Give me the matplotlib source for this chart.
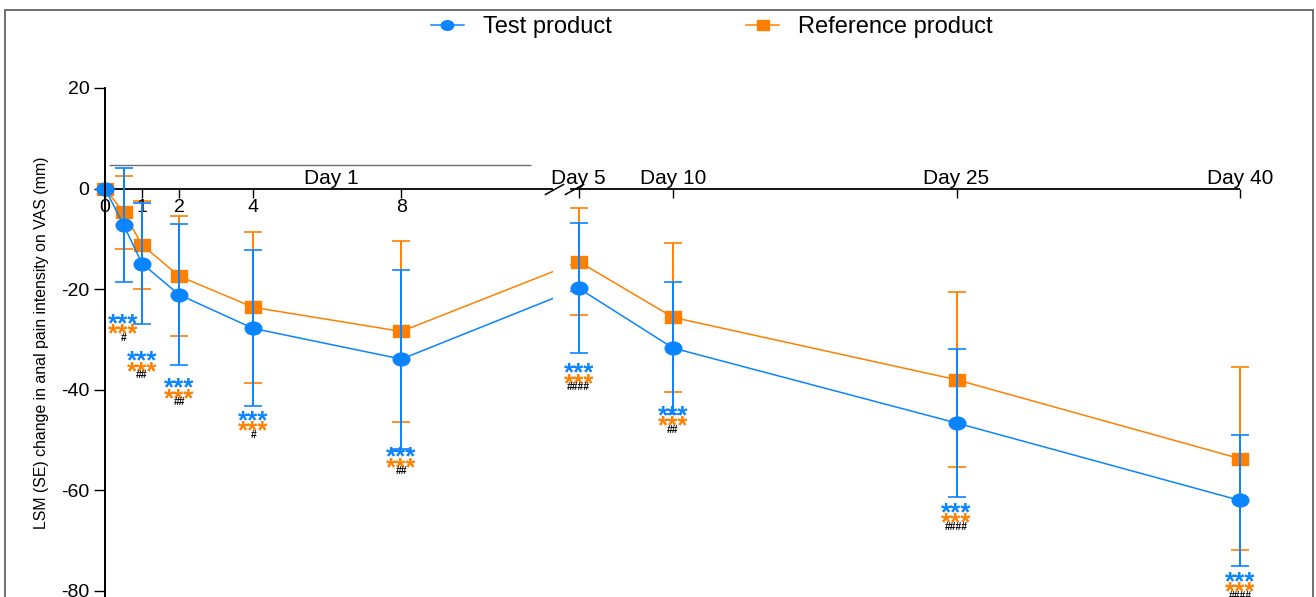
"""LSM change in anal pain intensity (VAS) over time, test vs reference product."""
import numpy as np
import matplotlib
matplotlib.use("Agg")
import matplotlib.pyplot as plt
from matplotlib.path import Path
from matplotlib.patches import Rectangle
from matplotlib.transforms import Affine2D

plt.rcParams["font.family"] = ["Liberation Sans", "DejaVu Sans"]
plt.rcParams["axes.unicode_minus"] = False

# visits: hours after first dose on day 1, then study days
hours = [0, 0.5, 1, 2, 4, 8]
days = [5, 10, 25, 40]
hour_ticks = [0, 1, 2, 4, 8]
hour_labels = ["0", "1", "2", "4", "8"]

test_mean = [0, -7.2, -14.9, -21.1, -27.8, -33.9, -19.8, -31.7, -46.6, -62.0]
test_se = [0, 11.3, 12.1, 14.0, 15.5, 17.8, 12.9, 13.1, 14.7, 13.0]
ref_mean = [0, -4.7, -11.2, -17.4, -23.6, -28.4, -14.5, -25.6, -38.0, -53.7]
ref_se = [0, 7.3, 8.7, 12.0, 15.0, 18.0, 10.6, 14.8, 17.4, 18.2]

# significance marks under each visit (except baseline)
star_y = [-25.4, -32.8, -38.2, -44.7, -51.9, -35.2, -43.7, -63.0, -76.7]
hash_labels = ["#", "##", "##", "#", "##", "####", "##", "####", "####"]

BLUE = "#0a84ff"
ORANGE = "#ff8000"

# time axis in hours, day d sits at (d - 1) * 24 h
day_t = [(d - 1) * 24 for d in days]
t = np.array(hours + day_t, dtype=float)

# piecewise linear axis: hour scale for day 1, compressed day scale after the break
T_KNOTS = [0, 8, 96, 936]
P_KNOTS = [0, 8, 12.78, 30.63]


def fwd(x):
    return np.interp(x, T_KNOTS, P_KNOTS)


def inv(p):
    return np.interp(p, P_KNOTS, T_KNOTS)


# markers are a bit wider than tall in the source picture
ellipse = Path.unit_circle().transformed(Affine2D().scale(1.3, 1.0))
wide_square = Path.unit_rectangle().transformed(Affine2D().translate(-0.5, -0.5).scale(1.3, 1.0))

fig = plt.figure(figsize=(13.16, 5.97), dpi=100)
ax = fig.add_axes([105 / 1316, 0, (1240 - 105) / 1316, 1 - 88 / 597])
ax.set_xscale("function", functions=(fwd, inv))
ax.set_xlim(0, 936)
ax.set_ylim(-81.2, 20)

eb_ref = ax.errorbar(t, ref_mean, yerr=ref_se, color=ORANGE, marker=wide_square, ms=12,
                     lw=1.1, elinewidth=1.4, capsize=6.5, capthick=1.2, zorder=1.5, clip_on=False)
eb_test = ax.errorbar(t, test_mean, yerr=test_se, color=BLUE, marker=ellipse, ms=12,
                      lw=1.1, elinewidth=1.4, capsize=6.5, capthick=1.2, zorder=1.6, clip_on=False)

# x axis drawn at zero, with a break between day 1 and day 5
ax.axhline(0, color="black", lw=1.3, zorder=1)
ax.axvspan(inv(12.08), inv(12.56), color="white", lw=0, zorder=1.8)
for p in (12.11, 12.66):
    ax.plot([inv(p)], [0], ls="none", marker=[(-1, -0.55), (1, 0.55)], ms=14, mew=1.1,
            color="black", clip_on=False, zorder=3)

ax.spines[["top", "right"]].set_visible(False)
ax.spines["bottom"].set_position(("data", 0))
ax.spines["bottom"].set_visible(False)
ax.spines["left"].set_linewidth(1.4)

ax.set_xticks(hour_ticks + day_t, labels=hour_labels + [""] * len(days))
ax.tick_params(axis="x", direction="out", length=6.5, width=1, pad=1, labelsize=14)
ax.set_yticks(np.arange(-80, 21, 20))
ax.tick_params(axis="y", direction="out", length=7.7, width=1, pad=3.5, labelsize=14)
ax.set_ylabel("LSM (SE) change in anal pain intensity on VAS (mm)", fontsize=11.4, labelpad=9)

for d, dt in zip(days, day_t):
    ax.annotate(f"Day {d}", (dt, 0), xytext=(0, 3.5), textcoords="offset points",
                ha="center", va="baseline", fontsize=15)
ax.annotate("Day 1", (inv(6.1), 0), xytext=(0, 3.5), textcoords="offset points",
            ha="center", va="baseline", fontsize=15)
ax.hlines(4.6, inv(0.11), inv(11.49), color="#707070", lw=1)

star_font = dict(fontsize=18.5, fontweight="bold")
for tt, y, h in zip(t[1:], star_y, hash_labels):
    ax.annotate("***", (tt, y), xytext=(0, -10.6), textcoords="offset points", ha="center",
                va="baseline", color=BLUE, **star_font)
    ax.annotate("***", (tt, y), xytext=(0, -18.2), textcoords="offset points", ha="center",
                va="baseline", color=ORANGE, **star_font)
    ax.annotate(h, (tt, y), xytext=(0, -17.8), textcoords="offset points", ha="center",
                va="baseline", color="black", fontsize=7.5, fontweight="bold")

fig.legend([eb_test.lines[0], eb_ref.lines[0]], ["Test product", "Reference product"],
           loc="center", bbox_to_anchor=(0.541, 0.955), ncol=2, frameon=False, fontsize=17,
           handlelength=1.4, handletextpad=0.8, columnspacing=5.7, markerscale=0.75)

fig.add_artist(Rectangle((5 / 1316, -0.05), (1313 - 5) / 1316, 1.05 - 10 / 597,
                         transform=fig.transFigure, fill=False, ec="#555555", lw=1.2))

fig.savefig("out.png", dpi=100)
